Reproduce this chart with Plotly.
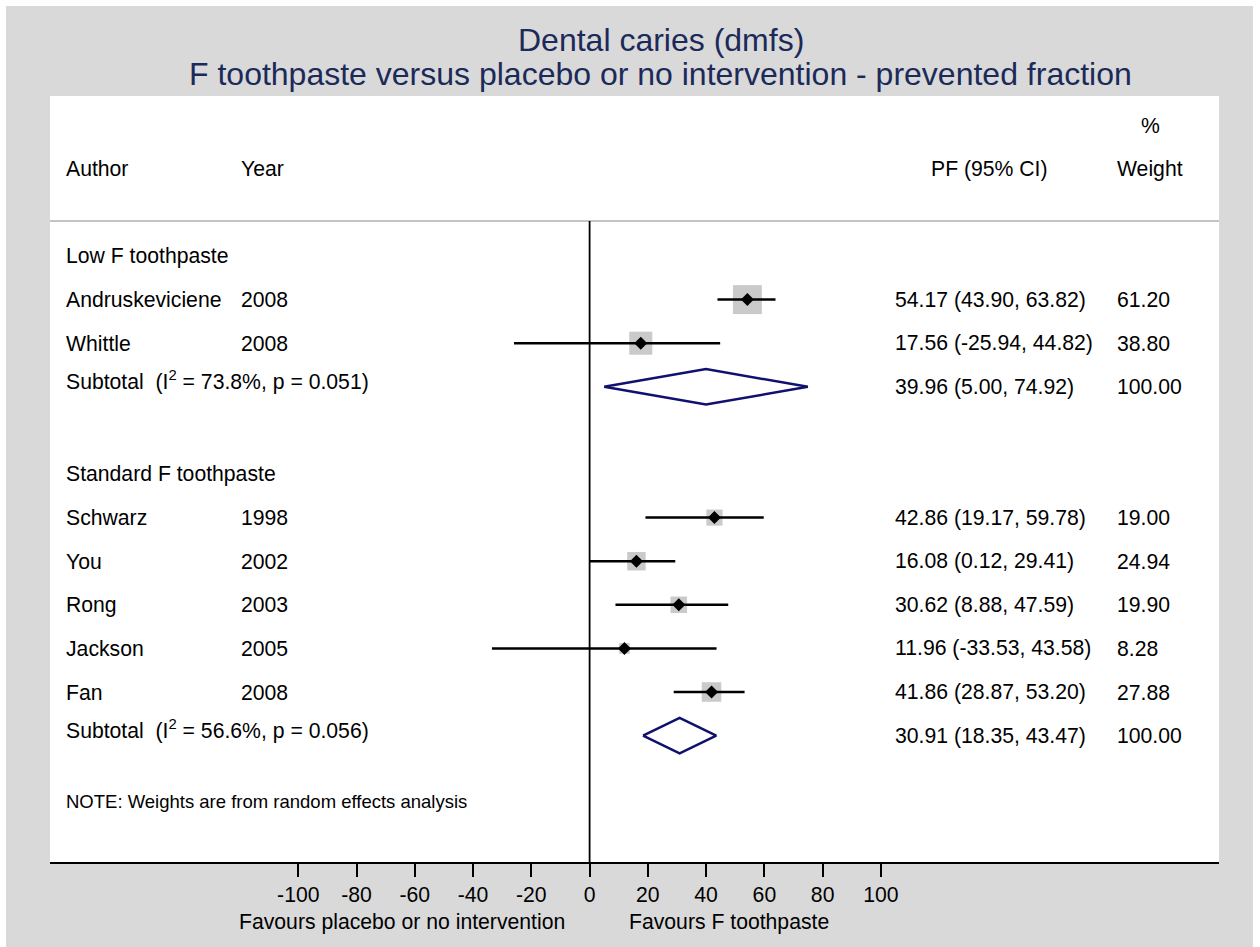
import numpy as np
import plotly.graph_objects as go

# ---------------- data ----------------
authors = ["Andruskeviciene", "Whittle", "Schwarz", "You", "Rong", "Jackson", "Fan"]
years = [2008, 2008, 1998, 2002, 2003, 2005, 2008]
pf = [54.17, 17.56, 42.86, 16.08, 30.62, 11.96, 41.86]
ci_lo = [43.90, -25.94, 19.17, 0.12, 8.88, -33.53, 28.87]
ci_hi = [63.82, 44.82, 59.78, 29.41, 47.59, 43.58, 53.20]
weights = [61.20, 38.80, 19.00, 24.94, 19.90, 8.28, 27.88]
study_group = [0, 0, 1, 1, 1, 1, 1]

group_names = ["Low F toothpaste", "Standard F toothpaste"]
sub_pf = [39.96, 30.91]
sub_lo = [5.00, 18.35]
sub_hi = [74.92, 43.47]
sub_i2 = [73.8, 56.6]
sub_p = ["0.051", "0.056"]
sub_weight = [100.00, 100.00]

tick_vals = [-100, -80, -60, -40, -20, 0, 20, 40, 60, 80, 100]

title_1 = "Dental caries (dmfs)"
title_2 = "F toothpaste versus placebo or no intervention - prevented fraction"
note = "NOTE: Weights are from random effects analysis"
favours_left = "Favours placebo or no intervention"
favours_right = "Favours F toothpaste"

# ---------------- layout constants ----------------
W, H = 1260, 947
L, R, T, B = 50, 41, 96, 85
PW, PH = W - L - R, H - T - B
FONT = "Arial, Liberation Sans, Helvetica, sans-serif"
FS = 21.2
TITLE_COL = "#1b2a58"
BG = "#d9d9d9"
BOX_COL = "#b4b4b4"
DIA_COL = "#10106e"

# x scale: 0 at pixel 589.6, 2.913 px/unit
px0, ppu = 589.6, 2.913
x_range = [(L - px0) / ppu, (L + PW - px0) / ppu]
# y rows: row 0 at pixel 255, 43.6 px per row
py0, ppr = 256.0, 43.6
y_range = [(T + PH - py0) / ppr, (T - py0) / ppr]


def paper_x(px):
    return (px - L) / PW


def paper_y(py):
    return (T + PH - py) / PH


# row assignment
rows_study = [None] * len(authors)
group_header_row, sub_row = [], []
r = 0
for g in range(len(group_names)):
    group_header_row.append(r)
    r += 1
    for i, sg in enumerate(study_group):
        if sg == g:
            rows_study[i] = r
            r += 1
    sub_row.append(r)
    r += 2  # subtotal + blank
note_row = r - 0.5

fig = go.Figure()

# weight boxes
fig.add_trace(go.Scatter(
    x=pf, y=rows_study, mode="markers",
    marker=dict(symbol="square", color=BOX_COL,
                size=[3.7 * np.sqrt(w) for w in weights], line=dict(width=0)),
    hoverinfo="skip", showlegend=False))
# CI lines
for i in range(len(authors)):
    fig.add_trace(go.Scatter(
        x=[ci_lo[i], ci_hi[i]], y=[rows_study[i], rows_study[i]],
        mode="lines", line=dict(color="black", width=2.5),
        hoverinfo="skip", showlegend=False))
# point estimates
fig.add_trace(go.Scatter(
    x=pf, y=rows_study, mode="markers",
    marker=dict(symbol="diamond", color="black", size=10, line=dict(width=0)),
    hoverinfo="skip", showlegend=False))

# subtotal diamonds
dh = 0.406
for g in range(len(group_names)):
    yy = sub_row[g]
    fig.add_trace(go.Scatter(
        x=[sub_lo[g], sub_pf[g], sub_hi[g], sub_pf[g], sub_lo[g]],
        y=[yy, yy - dh, yy, yy + dh, yy],
        mode="lines", line=dict(color=DIA_COL, width=2.5),
        hoverinfo="skip", showlegend=False))

ann = []


def text(xp, yrow, s, anchor="left", size=FS, color="black"):
    ann.append(dict(x=xp, xref="paper", y=yrow, yref="y", text=s,
                    showarrow=False, xanchor=anchor, yanchor="middle",
                    font=dict(family=FONT, size=size, color=color)))


AUTH_X = paper_x(64)
YEAR_X = paper_x(239)
PF_X = paper_x(893)
WT_X = paper_x(1115)

# headers
text(paper_x(1150), -3, "%", anchor="center")
text(AUTH_X, -2, "Author")
text(YEAR_X, -2, "Year")
text(paper_x(929), -2, "PF (95% CI)")
text(WT_X, -2, "Weight")

for g in range(len(group_names)):
    text(AUTH_X, group_header_row[g], group_names[g])
    text(AUTH_X, sub_row[g] - 0.15,
         f"Subtotal  (I<sup>2</sup> = {sub_i2[g]:.1f}%, p = {sub_p[g]})")
    text(PF_X, sub_row[g], f"{sub_pf[g]:.2f} ({sub_lo[g]:.2f}, {sub_hi[g]:.2f})")
    text(WT_X, sub_row[g], f"{sub_weight[g]:.2f}")

for i in range(len(authors)):
    text(AUTH_X, rows_study[i], authors[i])
    text(YEAR_X, rows_study[i], str(years[i]))
    text(PF_X, rows_study[i], f"{pf[i]:.2f} ({ci_lo[i]:.2f}, {ci_hi[i]:.2f})")
    text(WT_X, rows_study[i], f"{weights[i]:.2f}")

text(AUTH_X, note_row, note, size=18.5)

# titles
for s, py in [(title_1, 40), (title_2, 74)]:
    ann.append(dict(x=paper_x(661), xref="paper", y=paper_y(py), yref="paper",
                    text=s, showarrow=False, xanchor="center", yanchor="middle",
                    font=dict(family=FONT, size=32, color=TITLE_COL)))

# favours labels
for s, px in [(favours_left, 402), (favours_right, 728.5)]:
    ann.append(dict(x=(px - px0) / ppu, xref="x", y=paper_y(922), yref="paper",
                    text=s, showarrow=False, xanchor="center", yanchor="middle",
                    font=dict(family=FONT, size=FS, color="black")))

sep_row = (221 - py0) / ppr
shapes = [
    # header separator
    dict(type="line", xref="paper", x0=0, x1=1, yref="y", y0=sep_row, y1=sep_row,
         line=dict(color="#c4c4c4", width=2)),
    # null line
    dict(type="line", xref="x", x0=0, x1=0, yref="y", y0=sep_row, y1=y_range[0],
         line=dict(color="black", width=1.8)),
    # white outer border strips
    dict(type="rect", xref="paper", yref="paper", x0=paper_x(0), x1=paper_x(6),
         y0=paper_y(H), y1=paper_y(0), fillcolor="white", line=dict(width=0), layer="below"),
    dict(type="rect", xref="paper", yref="paper", x0=paper_x(0), x1=paper_x(W),
         y0=paper_y(6), y1=paper_y(0), fillcolor="white", line=dict(width=0), layer="below"),
    dict(type="rect", xref="paper", yref="paper", x0=paper_x(1253), x1=paper_x(W),
         y0=paper_y(H), y1=paper_y(0), fillcolor="white", line=dict(width=0), layer="below"),
]

fig.update_layout(
    width=W, height=H,
    margin=dict(l=L, r=R, t=T, b=B, pad=0),
    paper_bgcolor=BG, plot_bgcolor="white",
    showlegend=False,
    annotations=ann, shapes=shapes,
    font=dict(family=FONT, size=FS, color="black"),
    xaxis=dict(range=x_range, tickvals=tick_vals, ticktext=[str(v) for v in tick_vals],
               showgrid=False, zeroline=False, showline=True, linecolor="black",
               linewidth=2, ticks="outside", ticklen=13, tickwidth=1.5,
               tickcolor="black", tickfont=dict(family=FONT, size=FS, color="black"),
               fixedrange=True),
    yaxis=dict(range=y_range, showgrid=False, zeroline=False, showticklabels=False,
               showline=False, ticks="", fixedrange=True),
)

fig.write_html("out.html",
               config={"displayModeBar": False},
               post_script="document.body.style.margin='0';document.body.style.overflow='hidden';")
